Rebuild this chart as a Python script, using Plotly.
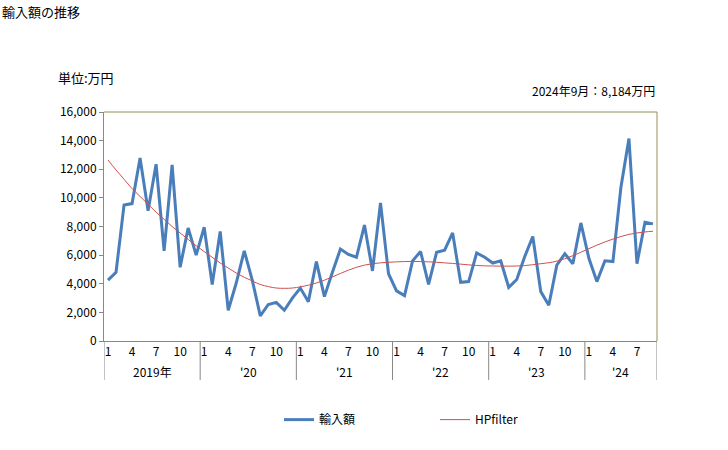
import plotly.graph_objects as go

# ---- data ----
years = ["2019年", "'20", "'21", "'22", "'23", "'24"]
months_per_year = [12, 12, 12, 12, 12, 9]
month_labels = ["1", "4", "7", "10"]

imports = [
    4250, 4800, 9500, 9600, 12780, 9100, 12350, 6300, 12300, 5150, 7900, 6000,
    7950, 3950, 7650, 2150, 4050, 6300, 4250, 1750, 2550, 2700, 2150, 3000,
    3700, 2750, 5550, 3100, 4800, 6420, 6050, 5850, 8100, 4900, 9650, 4700,
    3500, 3170, 5600, 6250, 3950, 6200, 6350, 7550, 4100, 4150, 6150, 5850,
    5450, 5600, 3750, 4300, 5900, 7300, 3450, 2500, 5300, 6100, 5400, 8250,
    5780, 4150, 5600, 5550, 10750, 14150, 5400, 8300, 8184,
]
hp_trend = [
    12650, 11950, 11300, 10650, 10100, 9550, 9000, 8500, 8000, 7550, 7100, 6650,
    6250, 5850, 5450, 5100, 4750, 4450, 4200, 3950, 3800, 3700, 3680, 3700,
    3780, 3900, 4050, 4250, 4480, 4720, 4950, 5150, 5300, 5400, 5460, 5500,
    5530, 5550, 5560, 5550, 5530, 5500, 5460, 5420, 5370, 5320, 5280, 5250,
    5240, 5230, 5230, 5240, 5270, 5330, 5400, 5470, 5580, 5750, 5960, 6200,
    6450, 6700, 6920, 7120, 7300, 7450, 7550, 7620, 7670,
]
latest_label = "2024年9月：8,184万円"

# ---- derived axis helpers ----
n = len(imports)
x = list(range(n))
tickvals, ticktext = [], []
year_starts = []
idx = 0
for y_lab, cnt in zip(years, months_per_year):
    year_starts.append(idx)
    for m in range(cnt):
        if str(m + 1) in month_labels:
            tickvals.append(idx + m)
            ticktext.append(str(m + 1))
    idx += cnt

FONT = "Noto Sans CJK JP"

fig = go.Figure()
fig.add_trace(go.Scatter(x=x, y=imports, mode="lines", name="輸入額",
                         line=dict(color="#4a7ebb", width=3)))
fig.add_trace(go.Scatter(x=x, y=hp_trend, mode="lines", name="HPfilter",
                         line=dict(color="#d0504d", width=1, shape="spline")))

shapes = []
annotations = []
# year separators below the axis
for s in year_starts + [n]:
    shapes.append(dict(type="line", xref="x", yref="paper", x0=s - 0.5, x1=s - 0.5,
                       y0=0, y1=-0.17, line=dict(color="#888888", width=1)))
# year labels
for y_lab, s, cnt in zip(years, year_starts, months_per_year):
    annotations.append(dict(text=y_lab, xref="x", yref="paper", x=s + (cnt - 1) / 2,
                            y=0, yanchor="middle", yshift=-30, showarrow=False,
                            font=dict(size=12, color="#000000", family=FONT)))
# top & right plot border
shapes.append(dict(type="line", xref="paper", yref="paper", x0=0, x1=1, y0=1, y1=1,
                   line=dict(color="#948f55", width=1)))
shapes.append(dict(type="line", xref="paper", yref="paper", x0=1, x1=1, y0=0, y1=1,
                   line=dict(color="#948f55", width=1)))

annotations += [
    dict(text="輸入額の推移", xref="paper", yref="paper", x=-104 / 553, y=1 + 100 / 229,
         xanchor="left", yanchor="middle", showarrow=False,
         font=dict(size=13, color="#000000", family=FONT)),
    dict(text="単位:万円", xref="paper", yref="paper", x=-48 / 553, y=1 + 35 / 229,
         xanchor="left", yanchor="middle", showarrow=False,
         font=dict(size=13, color="#000000", family=FONT)),
    dict(text=latest_label, xref="paper", yref="paper", x=1, y=1 + 22 / 229,
         xanchor="right", yanchor="middle", showarrow=False,
         font=dict(size=12, color="#000000", family=FONT)),
]

fig.update_layout(
    width=728, height=450,
    margin=dict(l=104, r=71, t=112, b=109),
    paper_bgcolor="white", plot_bgcolor="white",
    font=dict(family=FONT, size=12, color="#000000"),
    showlegend=True,
    legend=dict(orientation="h", x=(279 - 104) / 553, xanchor="left", y=-0.28, yanchor="top",
                font=dict(size=12, family=FONT), itemwidth=30,
                traceorder="normal", entrywidth=111),
    shapes=shapes, annotations=annotations,
    xaxis=dict(range=[-0.5, n - 0.5], tickvals=tickvals, ticktext=ticktext,
               showgrid=False, zeroline=False, showline=True, linecolor="#888888",
               ticks="", tickfont=dict(size=12), fixedrange=True),
    yaxis=dict(range=[0, 16000], dtick=2000, tickformat=",d", showgrid=False,
               zeroline=False, showline=True, linecolor="#888888", ticks="outside",
               ticklen=4, tickcolor="#888888", tickfont=dict(size=12)),
)

fig.write_html("out.html")
